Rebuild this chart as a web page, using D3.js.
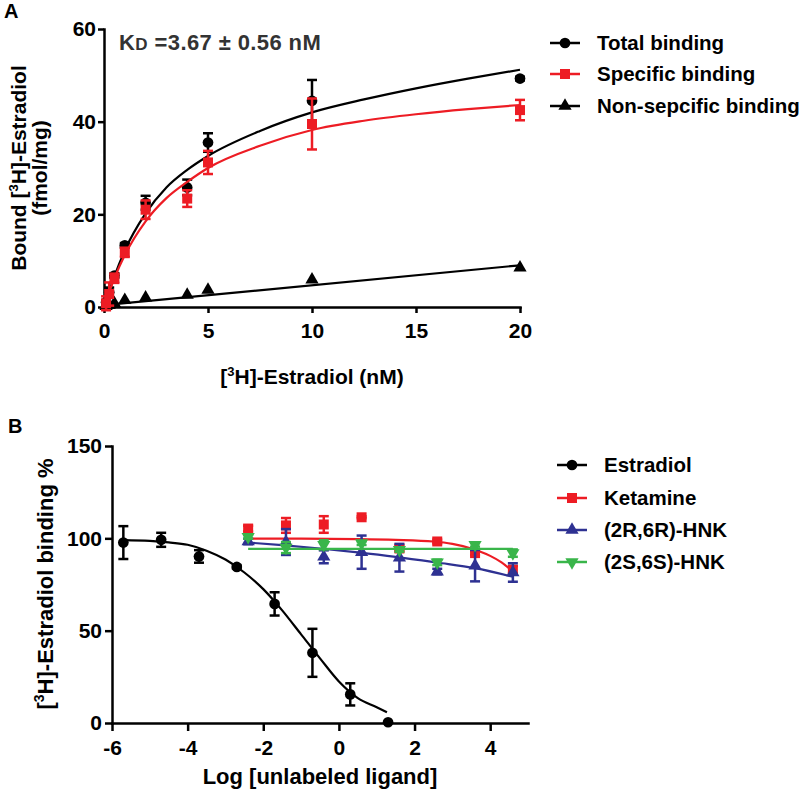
<!DOCTYPE html>
<html lang="en">
<head>
<meta charset="UTF-8">
<title>Estradiol binding</title>
<script src="https://d3js.org/d3.v7.min.js"></script>
<style>
  html, body { margin:0; background:#fff; }
  svg { display:block; font-family:"Liberation Sans", Arial, sans-serif; font-weight:bold; }
  .axis path, .axis line { stroke:#000; stroke-width:2.5px; }
  .axis path { stroke-linecap:square; }
  .axis text { font-size:21px; font-weight:bold; fill:#000; font-family:"Liberation Sans", Arial, sans-serif; }
  .curve { fill:none; stroke-width:2.2px; }
  .err { stroke-width:2.5px; fill:none; }
</style>
</head>
<body>
<svg id="chart" width="800" height="789"></svg>
<script>
// ---- panel A: saturation binding ----
const concA     = [0.1, 0.25, 0.5, 1, 2, 4, 5, 10, 20];
const totalY    = [1.0, 3.2, 6.8, 13.3, 22.5, 25.8, 35.5, 44.5, 49.3];
const totalErr  = [0.5, 1.0, 0.5, 0.5, 1.5, 1.7, 2.0, 4.5, 0.4];
const specY     = [0.8, 2.8, 6.2, 11.8, 21.0, 23.4, 31.2, 39.5, 42.5];
const specErr   = [1.5, 2.5, 1.0, 1.0, 2.0, 1.8, 2.5, 5.5, 2.2];
const nonspecY  = [0.2, 0.4, 0.8, 1.5, 2.0, 2.6, 3.7, 5.9, 8.5];
const nonspecErr= [0, 0, 0, 0, 0, 0, 0, 0, 0];

// fitted lines
const fitAX       = [0, 0.5, 1, 2, 3, 4, 5, 7.5, 10, 12.5, 15, 17.5, 20];
const totalFitY   = [0, 6.6, 12.2, 20.2, 25.8, 29.6, 32.6, 38, 42, 44.8, 47.2, 49.3, 51.2];
const specFitY    = [0, 6.2, 11.2, 18.5, 23.5, 27, 30, 34.8, 38.2, 40.2, 41.6, 42.7, 43.6];
const nonspecFitX = [0, 20];
const nonspecFitY = [0.4, 9];

const ticksAX = [0, 5, 10, 15, 20];
const ticksAY = [0, 20, 40, 60];
const legendA = ["Total binding", "Specific binding", "Non-sepcific binding"];

// ---- panel B: competition binding ----
const logEst   = [-5.7, -4.7, -3.7, -2.7, -1.7, -0.7, 0.3, 1.3];
const estY     = [97.7, 99.2, 90.2, 84.5, 64.5, 38, 15.5, 0.4];
const estErr   = [8.9, 3.8, 3.4, 0.8, 6.3, 13, 6, 0];
const logOther = [-2.4, -1.4, -0.4, 0.6, 1.6, 2.6, 3.6, 4.6];
const ketY     = [105.3, 107, 107.5, 111.4, 94.5, 98.3, 92, 83];
const ketErr   = [1.5, 4, 4.5, 0.5, 1.5, 1, 1, 2];
const hnkRY    = [98.3, 98, 90, 92.5, 89.5, 82, 85.2, 81.5];
const hnkRErr  = [1.5, 7, 3.5, 9, 7.5, 1.5, 8.5, 5];
const hnkSY    = [100.8, 95, 96.5, 97.4, 93.8, 87, 96.5, 92];
const hnkSErr  = [1, 3, 2.5, 1, 1, 1.5, 1, 2];

const estFitX  = [-5.7, -5, -4.5, -4, -3.5, -3, -2.5, -2, -1.5, -1, -0.5, 0, 0.5, 1, 1.27];
const estFitY  = [99, 98.6, 97.8, 96.5, 93.3, 88.5, 81.5, 72.5, 61, 48, 35, 22.5, 13.5, 8.5, 5.8];
const ketFitX  = [-2.4, -1, 0.5, 1.5, 2.5, 3, 3.5, 4, 4.3, 4.6];
const ketFitY  = [99.8, 99.8, 99.6, 99.2, 98.3, 97, 94.5, 90.5, 87, 82];
const hnkRFitX = [-2.4, -1.5, -0.5, 0.5, 1.5, 2.6, 3.6, 4.6];
const hnkRFitY = [97.7, 96.3, 94.5, 92.4, 90, 86.9, 83.9, 79.2];
const hnkSFitX = [-2.4, 4.6];
const hnkSFitY = [94.3, 94.3];

const ticksBX = [-6, -4, -2, 0, 2, 4];
const ticksBY = [0, 50, 100, 150];
const legendB = ["Estradiol", "Ketamine", "(2R,6R)-HNK", "(2S,6S)-HNK"];

const RED = "#ed1c24", BLUE = "#2e3192", GREEN = "#39b54a", BLACK = "#000";

const svg = d3.select("#chart");
const plain = d => String(d);   // keep ASCII hyphen for negatives

function symbolPath(kind) {
  if (kind === "circle") return d3.symbol(d3.symbolCircle, 90)();
  if (kind === "square") return d3.symbol(d3.symbolSquare, 100)();
  return d3.symbol(d3.symbolTriangle, 76)();
}
function addMarker(g, kind, color, x, y) {
  g.append("path")
    .attr("d", symbolPath(kind))
    .attr("fill", color)
    .attr("transform", `translate(${x},${y})` + (kind === "down" ? " rotate(180)" : ""));
}

function drawSeries(g, xs, ys, errs, fx, fy, x, y, kind, color) {
  const line = d3.line().x(d => x(d[0])).y(d => y(d[1])).curve(d3.curveMonotoneX);
  g.append("path").attr("class", "curve").attr("stroke", color)
    .attr("d", line(d3.zip(fx, fy)));
  const pts = xs.map((v, i) => ({x: v, y: ys[i], e: errs[i]}));
  const eb = g.append("g").attr("stroke", color).attr("class", "err");
  pts.filter(p => p.e > 0).forEach(p => {
    const cx = x(p.x), y1 = y(p.y + p.e), y2 = y(p.y - p.e);
    eb.append("line").attr("x1", cx).attr("x2", cx).attr("y1", y1).attr("y2", y2);
    eb.append("line").attr("x1", cx - 5).attr("x2", cx + 5).attr("y1", y1).attr("y2", y1);
    eb.append("line").attr("x1", cx - 5).attr("x2", cx + 5).attr("y1", y2).attr("y2", y2);
  });
  pts.forEach(p => addMarker(g, kind, color, x(p.x), y(p.y)));
}

// text with a superscript part: parts = [[str, isSup], ...]
function supText(g, parts, size) {
  parts.forEach(([s, sup], i) => {
    const t = g.append("tspan").text(s);
    if (sup) t.attr("font-size", Math.round(size * 0.62)).attr("dy", -size * 0.4);
    else if (i > 0 && parts[i - 1][1]) t.attr("dy", size * 0.4);
  });
}

function legend(g, labels, kinds, colors, x0, ys) {
  labels.forEach((lab, i) => {
    const yy = ys[i];
    g.append("line").attr("x1", x0).attr("x2", x0 + 30).attr("y1", yy).attr("y2", yy)
      .attr("stroke", colors[i]).attr("stroke-width", 2.5);
    addMarker(g, kinds[i], colors[i], x0 + 15, yy);
    g.append("text").attr("x", x0 + 47).attr("y", yy).attr("dy", "0.36em")
      .attr("font-size", 20.5).text(lab);
  });
}

// ================= Panel A =================
const xA = d3.scaleLinear().domain([0, 20]).range([104, 520]);
const yA = d3.scaleLinear().domain([0, 60]).range([307, 29]);
const gA = svg.append("g");

gA.append("g").attr("class", "axis").attr("transform", "translate(0,307)")
  .call(d3.axisBottom(xA).tickValues(ticksAX).tickFormat(plain).tickSize(6).tickPadding(10).tickSizeOuter(0));
gA.append("g").attr("class", "axis").attr("transform", "translate(104,0)")
  .call(d3.axisLeft(yA).tickValues(ticksAY).tickFormat(plain).tickSize(6).tickPadding(2).tickSizeOuter(0));

drawSeries(gA, concA, nonspecY, nonspecErr, nonspecFitX, nonspecFitY, xA, yA, "triangle", BLACK);
drawSeries(gA, concA, totalY, totalErr, fitAX, totalFitY, xA, yA, "circle", BLACK);
drawSeries(gA, concA, specY, specErr, fitAX, specFitY, xA, yA, "square", RED);

gA.append("text").attr("x", 4).attr("y", 18).attr("font-size", 20).text("A");

const kd = gA.append("text").attr("x", 119).attr("y", 50).attr("font-size", 22)
  .attr("fill", "#333").attr("letter-spacing", 0.4);
kd.append("tspan").text("K");
kd.append("tspan").attr("font-size", 17).text("D");
kd.append("tspan").text(" =3.67 \u00b1 0.56 nM");

supText(gA.append("text").attr("x", 312).attr("y", 384).attr("text-anchor", "middle").attr("font-size", 21),
  [["[", false], ["3", true], ["H]-Estradiol (nM)", false]], 21);

const yTitleA = gA.append("g").attr("transform", "translate(0,168) rotate(-90)");
supText(yTitleA.append("text").attr("x", 0).attr("y", 26).attr("text-anchor", "middle").attr("font-size", 21),
  [["Bound [", false], ["3", true], ["H]-Estradiol", false]], 21);
yTitleA.append("text").attr("x", 0).attr("y", 47).attr("text-anchor", "middle").attr("font-size", 21)
  .text("(fmol/mg)");

legend(gA, legendA, ["circle", "square", "triangle"], [BLACK, RED, BLACK], 550, [43, 74, 106]);

// ================= Panel B =================
const xB = d3.scaleLinear().domain([-6, 5]).range([112, 528]);
const yB = d3.scaleLinear().domain([0, 150]).range([723, 446]);
const gB = svg.append("g");

gB.append("g").attr("class", "axis").attr("transform", "translate(0,723)")
  .call(d3.axisBottom(xB).tickValues(ticksBX).tickFormat(plain).tickSize(8).tickPadding(9).tickSizeOuter(0));
gB.append("g").attr("class", "axis").attr("transform", "translate(112,0)")
  .call(d3.axisLeft(yB).tickValues(ticksBY).tickFormat(plain).tickSize(7).tickPadding(3).tickSizeOuter(0));

drawSeries(gB, logEst, estY, estErr, estFitX, estFitY, xB, yB, "circle", BLACK);
drawSeries(gB, logOther, ketY, ketErr, ketFitX, ketFitY, xB, yB, "square", RED);
drawSeries(gB, logOther, hnkRY, hnkRErr, hnkRFitX, hnkRFitY, xB, yB, "triangle", BLUE);
drawSeries(gB, logOther, hnkSY, hnkSErr, hnkSFitX, hnkSFitY, xB, yB, "down", GREEN);

gB.append("text").attr("x", 8).attr("y", 433).attr("font-size", 20).text("B");

gB.append("text").attr("x", 320).attr("y", 784).attr("text-anchor", "middle").attr("font-size", 22)
  .text("Log [unlabeled ligand]");

const yTitleB = gB.append("g").attr("transform", "translate(0,584) rotate(-90)");
supText(yTitleB.append("text").attr("x", 0).attr("y", 53).attr("text-anchor", "middle").attr("font-size", 22),
  [["[", false], ["3", true], ["H]-Estradiol binding %", false]], 22);

legend(gB, legendB, ["circle", "square", "triangle", "down"], [BLACK, RED, BLUE, GREEN], 557, [465, 498, 530, 562]);
</script>
</body>
</html>
